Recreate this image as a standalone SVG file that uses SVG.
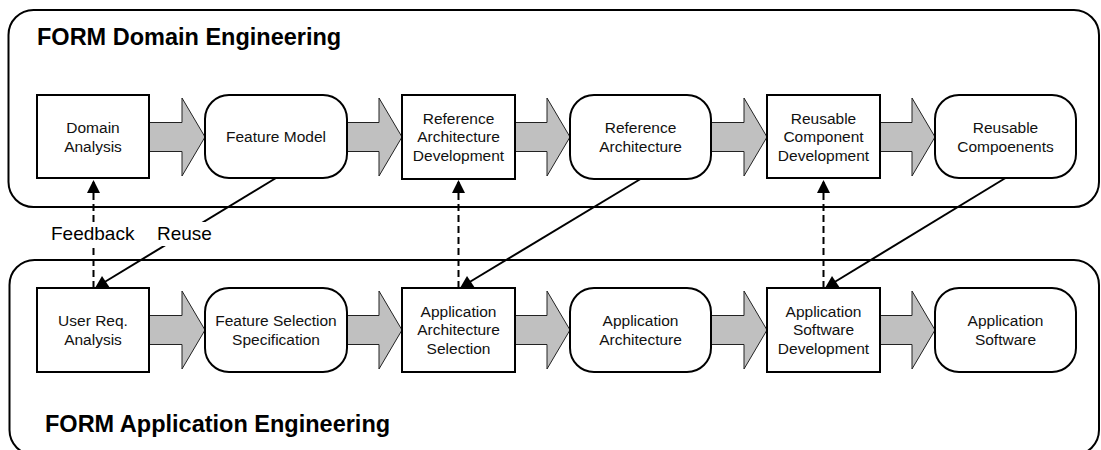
<svg xmlns="http://www.w3.org/2000/svg" width="1101" height="450" viewBox="0 0 1101 450">
  <style>
    .frame { fill: #ffffff; stroke: #000000; stroke-width: 2; }
    .title { font-family: "Liberation Sans", Arial, sans-serif; font-weight: bold; font-size: 23.5px; fill: #000000; }
    .task { fill: #ffffff; stroke: #000000; stroke-width: 2; }
    .product { fill: #ffffff; stroke: #000000; stroke-width: 2; }
    .label { font-family: "Liberation Sans", Arial, sans-serif; font-size: 15.5px; fill: #111111; text-anchor: middle; }
    .flow { fill: #c0c0c0; stroke: #222222; stroke-width: 1; stroke-linejoin: miter; }
    .reuse { fill: none; stroke: #000000; stroke-width: 2; marker-end: url(#reuseHead); }
    .feedback { fill: none; stroke: #000000; stroke-width: 2; stroke-dasharray: 7 4; marker-end: url(#upHead); }
    .tag { font-family: "Liberation Sans", Arial, sans-serif; font-size: 19px; fill: #000000; }
    .tagbg { fill: #ffffff; stroke: none; }
  </style>
  <defs>
    <!-- solid triangle for the dashed feedback arrows -->
    <marker id="upHead" markerUnits="userSpaceOnUse" viewBox="0 0 13 13" refX="13" refY="6.5" markerWidth="13" markerHeight="13" orient="auto">
      <path d="M0,0 L13,6.5 L0,13 z" fill="#000000"/>
    </marker>
    <!-- flat-based triangle sitting on the target box edge -->
    <marker id="reuseHead" markerUnits="userSpaceOnUse" viewBox="-8 -7 15 12" refX="0" refY="0" markerWidth="15" markerHeight="12" orient="0">
      <path d="M-8,5 L7,5 L-1,-7 z" fill="#000000"/>
    </marker>
    <!-- wide grey process-flow arrow, 56 px long, centred on y=0 -->
    <polygon id="flowArrow" points="0,-14.5 33,-14.5 33,-39 56,0 33,39 33,14.5 0,14.5"/>
  </defs>

  <!-- swimlane frames -->
  <g id="domain-engineering">
    <rect class="frame" x="8.5" y="10" width="1090.5" height="197" rx="25" ry="25"/>
    <text class="title" x="37" y="45">FORM Domain Engineering</text>
  </g>
  <g id="application-engineering">
    <rect class="frame" x="9.5" y="260" width="1089.5" height="195" rx="25" ry="25"/>
    <text class="title" x="45" y="432">FORM Application Engineering</text>
  </g>

  <!-- connectors -->
  <g id="connectors">
    <!-- process flow, domain row -->
    <use href="#flowArrow" class="flow" x="149" y="137"/>
    <use href="#flowArrow" class="flow" x="346" y="137"/>
    <use href="#flowArrow" class="flow" x="514" y="137"/>
    <use href="#flowArrow" class="flow" x="711" y="137"/>
    <use href="#flowArrow" class="flow" x="879" y="137"/>
    <!-- process flow, application row -->
    <use href="#flowArrow" class="flow" x="149" y="330"/>
    <use href="#flowArrow" class="flow" x="346" y="330"/>
    <use href="#flowArrow" class="flow" x="514" y="330"/>
    <use href="#flowArrow" class="flow" x="711" y="330"/>
    <use href="#flowArrow" class="flow" x="879" y="330"/>
    <!-- feedback (dashed, upward) -->
    <path class="feedback" d="M93.5,288 L93.5,180"/>
    <path class="feedback" d="M458.5,288 L458.5,180"/>
    <path class="feedback" d="M823.5,288 L823.5,180"/>
    <!-- reuse (solid, downward) -->
    <path class="reuse" d="M276,178 L103,283"/>
    <path class="reuse" d="M640.5,179 L468,283"/>
    <path class="reuse" d="M1005.5,178 L833,283"/>
  </g>

  <!-- connector labels -->
  <g id="label-feedback">
    <rect class="tagbg" x="48" y="222" width="91" height="24"/>
    <text class="tag" x="51" y="240">Feedback</text>
  </g>
  <g id="label-reuse">
    <rect class="tagbg" x="154" y="222" width="61" height="24"/>
    <text class="tag" x="157" y="240">Reuse</text>
  </g>

  <!-- domain engineering nodes -->
  <g id="domain-analysis">
    <rect class="task" x="37" y="95" width="112" height="83"/>
    <text class="label" x="93" y="133">Domain</text>
    <text class="label" x="93" y="151.5">Analysis</text>
  </g>
  <g id="feature-model">
    <rect class="product" x="205" y="95" width="142" height="83" rx="24" ry="24"/>
    <text class="label" x="276" y="142">Feature Model</text>
  </g>
  <g id="reference-architecture-development">
    <rect class="task" x="402" y="95" width="113" height="84"/>
    <text class="label" x="458.5" y="123.5">Reference</text>
    <text class="label" x="458.5" y="142.2">Architecture</text>
    <text class="label" x="458.5" y="160.8">Development</text>
  </g>
  <g id="reference-architecture">
    <rect class="product" x="570" y="95" width="141" height="84" rx="24" ry="24"/>
    <text class="label" x="640.5" y="133">Reference</text>
    <text class="label" x="640.5" y="151.5">Architecture</text>
  </g>
  <g id="reusable-component-development">
    <rect class="task" x="767" y="95" width="113" height="83"/>
    <text class="label" x="823.5" y="123.5">Reusable</text>
    <text class="label" x="823.5" y="142.2">Component</text>
    <text class="label" x="823.5" y="160.8">Development</text>
  </g>
  <g id="reusable-components">
    <rect class="product" x="935" y="95" width="141" height="83" rx="24" ry="24"/>
    <text class="label" x="1005.5" y="133">Reusable</text>
    <text class="label" x="1005.5" y="151.5">Compoenents</text>
  </g>

  <!-- application engineering nodes -->
  <g id="user-requirements-analysis">
    <rect class="task" x="37" y="288" width="112" height="84"/>
    <text class="label" x="93" y="326.3">User Req.</text>
    <text class="label" x="93" y="344.8">Analysis</text>
  </g>
  <g id="feature-selection-specification">
    <rect class="product" x="205" y="288" width="142" height="84" rx="24" ry="24"/>
    <text class="label" x="276" y="326.3">Feature Selection</text>
    <text class="label" x="276" y="344.8">Specification</text>
  </g>
  <g id="application-architecture-selection">
    <rect class="task" x="402" y="288" width="113" height="84"/>
    <text class="label" x="458.5" y="316.5">Application</text>
    <text class="label" x="458.5" y="335.2">Architecture</text>
    <text class="label" x="458.5" y="353.8">Selection</text>
  </g>
  <g id="application-architecture">
    <rect class="product" x="570" y="288" width="141" height="84" rx="24" ry="24"/>
    <text class="label" x="640.5" y="326.3">Application</text>
    <text class="label" x="640.5" y="344.8">Architecture</text>
  </g>
  <g id="application-software-development">
    <rect class="task" x="767" y="288" width="113" height="84"/>
    <text class="label" x="823.5" y="316.5">Application</text>
    <text class="label" x="823.5" y="335.2">Software</text>
    <text class="label" x="823.5" y="353.8">Development</text>
  </g>
  <g id="application-software">
    <rect class="product" x="935" y="288" width="141" height="84" rx="24" ry="24"/>
    <text class="label" x="1005.5" y="326.3">Application</text>
    <text class="label" x="1005.5" y="344.8">Software</text>
  </g>
</svg>
